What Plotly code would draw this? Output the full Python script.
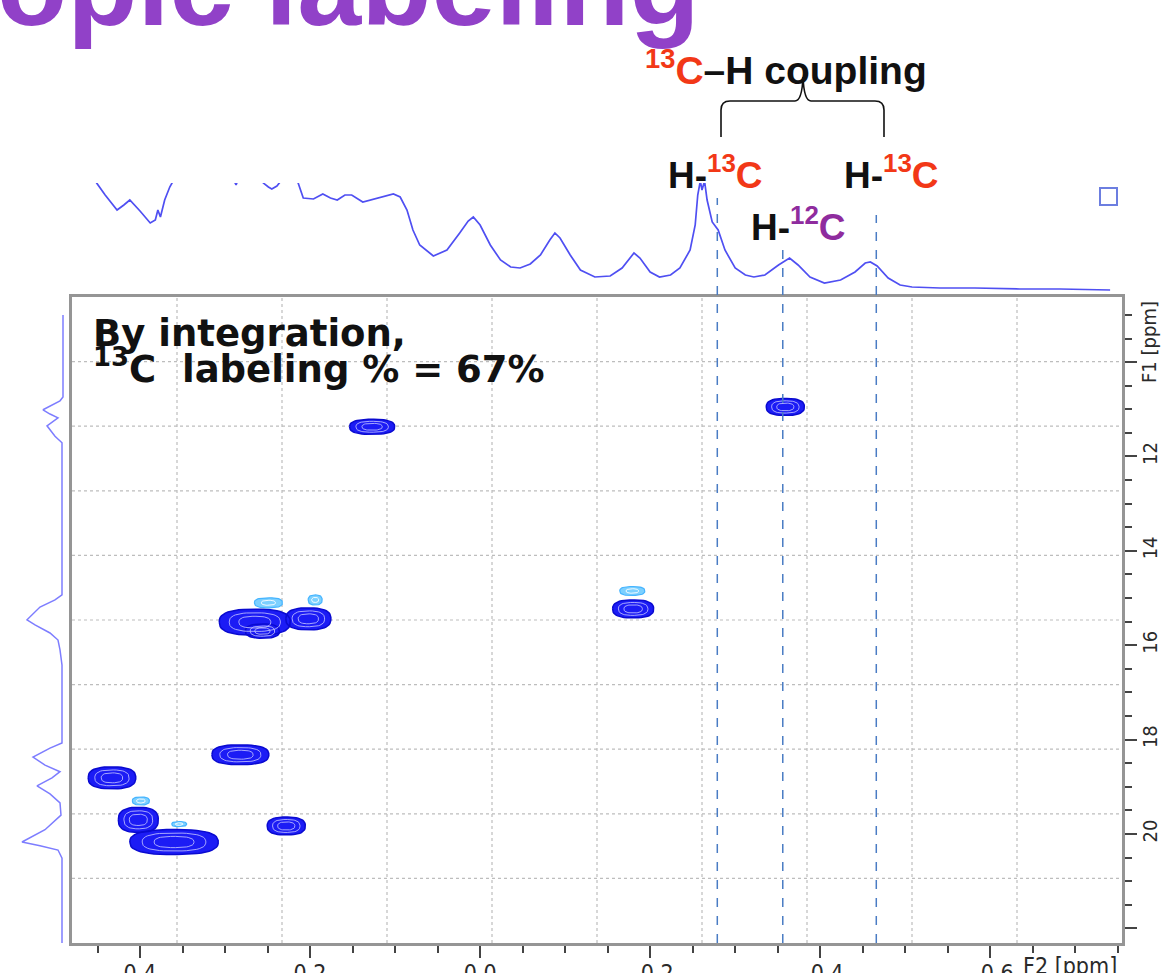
import numpy as np
import plotly.graph_objects as go

W, H = 1163, 973

# ---------------- data ----------------
# top 1D projection along F2 (ppm, arbitrary intensity)
top_ppm = [0.459, 0.451, 0.441, 0.427, 0.419, 0.412, 0.400, 0.388, 0.382, 0.379,
           0.376, 0.371, 0.365, 0.359, 0.329, 0.291, 0.287, 0.284, 0.271, 0.255,
           0.249, 0.245, 0.239, 0.234, 0.224, 0.214, 0.208, 0.196, 0.185, 0.176,
           0.168, 0.159, 0.151, 0.138, 0.129, 0.121, 0.102, 0.094, 0.086, 0.079,
           0.071, 0.055, 0.039, 0.024, 0.014, 0.008, 0.000, -0.012, -0.024, -0.036,
           -0.047, -0.059, -0.071, -0.082, -0.088, -0.094, -0.106, -0.118, -0.135, -0.153,
           -0.167, -0.181, -0.188, -0.200, -0.211, -0.224, -0.235, -0.247, -0.253, -0.256,
           -0.259, -0.261, -0.264, -0.267, -0.273, -0.280, -0.288, -0.300, -0.312, -0.322,
           -0.335, -0.351, -0.364, -0.374, -0.388, -0.405, -0.424, -0.441, -0.453, -0.459,
           -0.467, -0.480, -0.494, -0.508, -0.541, -0.582, -0.635, -0.682, -0.741]
top_int = [125, 107, 95, 80, 85, 90, 79, 67, 70, 80,
           73, 90, 103, 112, 140, 112, 105, 112, 130, 107,
           103, 101, 104, 109, 120, 107, 92, 91, 96, 92,
           90, 95, 95, 88, 90, 92, 96, 93, 80, 60,
           45, 34, 40, 57, 69, 73, 65, 45, 30, 23,
           22, 26, 35, 50, 57, 52, 35, 20, 13, 14,
           22, 37, 32, 18, 13, 15, 22, 40, 65, 95,
           109, 100, 109, 90, 68, 60, 40, 22, 15, 13,
           15, 25, 32, 25, 13, 7, 10, 18, 27, 28,
           24, 12, 5, 3, 2, 2, 1, 1, 0]

# left 1D projection along F1 (ppm, arbitrary intensity)
left_ppm = [9.00, 10.74, 10.82, 11.01, 11.10, 11.18, 11.35, 11.57, 11.71,
            14.93, 15.04, 15.19, 15.46, 15.57, 15.74, 15.89, 16.10, 16.42,
            18.07, 18.18, 18.37, 18.54, 18.68, 18.81, 18.98, 19.15, 19.34,
            19.60, 19.91, 20.17, 20.25, 20.34, 20.51, 22.39]
left_int = [0, 0, 3, 20, 13, 5, 16, 8, 1,
            1, 8, 23, 36, 28, 13, 5, 3, 1,
            1, 13, 30, 18, 3, 11, 26, 13, 3,
            2, 18, 41, 23, 5, 1, 1]

# 2D cross peaks (dark blue): F2 centre, F1 centre, half widths
pk_f2 = [-0.359, 0.127, 0.265, 0.202, 0.256, -0.180, 0.282, 0.433, 0.402, 0.360, 0.228]
pk_f1 = [10.95, 11.37, 15.51, 15.44, 15.70, 15.23, 18.32, 18.81, 19.70, 20.17, 19.83]
pk_w2 = [0.0224, 0.0265, 0.0418, 0.0265, 0.0200, 0.0241, 0.0335, 0.0280, 0.0235, 0.0520, 0.0224]
pk_w1 = [0.180, 0.160, 0.275, 0.233, 0.150, 0.190, 0.210, 0.233, 0.265, 0.265, 0.190]

# light blue (opposite sign) peaks
lt_f2 = [0.249, 0.194, -0.179, 0.399, 0.354]
lt_f1 = [15.10, 15.04, 14.85, 19.30, 19.79]
lt_w2 = [0.0165, 0.0082, 0.0147, 0.0100, 0.0088]
lt_w1 = [0.106, 0.106, 0.095, 0.085, 0.053]

# dashed guide lines (F2 ppm)
guide_ppm = [-0.279, -0.356, -0.466]

x_tickvals = [0.4, 0.2, 0.0, -0.2, -0.4, -0.6]
x_ticktext = ["0.4", "0.2", "0.0", "- 0.2", "- 0.4", "- 0.6"]
y_tickvals = [10, 12, 14, 16, 18, 20, 22]
y_ticktext = ["", "12", "14", "16", "18", "20", ""]

# ---------------- helpers ----------------
def px(x):
    return x / W

def py(y):
    return 1 - y / H

def blobs(cx, cy, wx, wy, scale=1.0, n=48, p=2.6):
    xs, ys = [], []
    t = np.linspace(0, 2 * np.pi, n)
    c, s = np.cos(t), np.sin(t)
    ex = np.sign(c) * np.abs(c) ** (2 / p)
    ey = np.sign(s) * np.abs(s) ** (2 / p)
    for a, b, u, v in zip(cx, cy, wx, wy):
        xs += list(a + scale * u * ex) + [None]
        ys += list(b + scale * v * ey) + [None]
    return xs, ys

fig = go.Figure()

# top projection
fig.add_trace(go.Scatter(x=top_ppm, y=top_int, mode="lines", xaxis="x2", yaxis="y2",
                         line=dict(color="#4f4ff2", width=1.7), hoverinfo="skip"))
# left projection
fig.add_trace(go.Scatter(x=left_int, y=left_ppm, mode="lines", xaxis="x3", yaxis="y3",
                         line=dict(color="#7d7dff", width=1.5), hoverinfo="skip"))

# cross peaks
bx, by = blobs(pk_f2, pk_f1, pk_w2, pk_w1)
fig.add_trace(go.Scatter(x=bx, y=by, mode="lines", fill="toself", fillcolor="#1c1cf5",
                         line=dict(color="#0a0ad0", width=1.5), hoverinfo="skip"))
for sc in (0.72, 0.45):
    rx, ry = blobs(pk_f2, pk_f1, pk_w2, pk_w1, scale=sc)
    fig.add_trace(go.Scatter(x=rx, y=ry, mode="lines",
                             line=dict(color="rgba(190,190,255,0.85)", width=1), hoverinfo="skip"))
lx, ly = blobs(lt_f2, lt_f1, lt_w2, lt_w1)
fig.add_trace(go.Scatter(x=lx, y=ly, mode="lines", fill="toself", fillcolor="#7cd0ff",
                         line=dict(color="#45b4ff", width=1.2), hoverinfo="skip"))
rx, ry = blobs(lt_f2, lt_f1, lt_w2, lt_w1, scale=0.5)
fig.add_trace(go.Scatter(x=rx, y=ry, mode="lines",
                         line=dict(color="rgba(255,255,255,0.9)", width=1), hoverinfo="skip"))

main_x = [px(72), px(1122)]
main_y = [py(943), py(297)]
cond = "DejaVu Sans Condensed, Liberation Sans Narrow, Roboto Condensed, Arial"
xfont = dict(family=cond, size=23, color="#2a2a2a")
yfont = dict(family=cond, size=20, color="#2a2a2a")

fig.update_layout(
    template="none",
    width=W, height=H, margin=dict(l=0, r=0, t=0, b=0, autoexpand=False),
    paper_bgcolor="white", plot_bgcolor="white", showlegend=False,
    xaxis=dict(domain=main_x, range=[0.48, -0.755], anchor="y", automargin=False,
               showgrid=False, zeroline=False, showline=True, mirror=True,
               linecolor="#959595", linewidth=3,
               tickmode="array", tickvals=x_tickvals, ticktext=x_ticktext,
               ticks="outside", ticklen=12, tickwidth=1.5, tickcolor="#444",
               ticklabelstandoff=-5,
               minor=dict(dtick=0.05, tick0=0, ticks="outside", ticklen=7,
                          tickwidth=1.5, tickcolor="#444", showgrid=False),
               tickfont=xfont),
    yaxis=dict(domain=main_y, range=[22.31, 8.62], anchor="x", side="right", automargin=False,
               showgrid=False, zeroline=False, showline=True, mirror=True,
               linecolor="#959595", linewidth=3,
               tickmode="array", tickvals=y_tickvals, ticktext=y_ticktext,
               ticks="outside", ticklen=12, tickwidth=1.5, tickcolor="#444",
               ticklabelstandoff=-4,
               minor=dict(dtick=0.5, tick0=0, ticks="outside", ticklen=7,
                          tickwidth=1.5, tickcolor="#444", showgrid=False),
               tickangle=-90, tickfont=yfont),
    xaxis2=dict(domain=main_x, matches="x", anchor="y2", visible=False, automargin=False),
    yaxis2=dict(domain=[py(297), py(183)], range=[-7, 107], anchor="x2", visible=False,
                automargin=False),
    xaxis3=dict(domain=[0, px(72)], range=[63, -9], anchor="y3", visible=False, automargin=False),
    yaxis3=dict(domain=main_y, matches="y", anchor="x3", visible=False, automargin=False),
)

shapes = []
# dotted grid: ten equal divisions of the box
for k in range(1, 10):
    shapes.append(dict(type="line", xref="x domain", yref="y domain", x0=k / 10, x1=k / 10,
                       y0=0, y1=1, line=dict(color="#bdbdbd", width=1.2, dash="dot"), layer="below"))
    shapes.append(dict(type="line", xref="x domain", yref="y domain", x0=0, x1=1,
                       y0=k / 10, y1=k / 10, line=dict(color="#bdbdbd", width=1.2, dash="dot"), layer="below"))
# dashed guides
for g, ytop in zip(guide_ppm, [198, 242, 215]):
    shapes.append(dict(type="line", xref="x", yref="paper", x0=g, x1=g, y0=py(943), y1=py(ytop),
                       line=dict(color="#4a7cc4", width=1.5, dash="dash")))
# brace
pts = [("M", 721, 137), ("L", 721, 110), ("Q", 721, 101, 730, 101), ("L", 795, 101),
       ("Q", 802, 101, 803, 77), ("Q", 804, 101, 811, 101), ("L", 875, 101),
       ("Q", 884, 101, 884, 110), ("L", 884, 137)]
path = ""
for p_ in pts:
    cmd = p_[0]
    coords = p_[1:]
    s = " ".join(f"{px(coords[i]):.5f},{py(coords[i + 1]):.5f}" for i in range(0, len(coords), 2))
    path += f"{cmd} {s} "
shapes.append(dict(type="path", xref="paper", yref="paper", path=path.strip(),
                   line=dict(color="#111", width=1.6)))
# small square icon
shapes.append(dict(type="rect", xref="paper", yref="paper", x0=px(1100), x1=px(1117),
                   y0=py(205), y1=py(188), line=dict(color="#6c7ee0", width=2)))
fig.update_layout(shapes=shapes)

RED = "#f23817"
PUR = "#8f2c9e"
arial = "Liberation Sans, Arial, Helvetica, sans-serif"
ann = []
ann.append(dict(text="<b>opic labeling</b>", x=px(702), y=py(-15), xref="paper", yref="paper",
                xanchor="right", yanchor="middle", showarrow=False,
                font=dict(family=arial, size=115, color="#9141c8")))
ann.append(dict(text=f'<b><span style="color:{RED}"><sup>13</sup>C</span>–H coupling</b>',
                x=px(643), y=py(67), xref="paper", yref="paper", xanchor="left", yanchor="middle",
                showarrow=False, font=dict(family=arial, size=39, color="#111")))
for x0 in (666, 842):
    ann.append(dict(text=f'<b>H-<span style="color:{RED}"><sup>13</sup>C</span></b>',
                    x=px(x0), y=py(172), xref="paper", yref="paper", xanchor="left", yanchor="middle",
                    showarrow=False, font=dict(family=arial, size=37, color="#111")))
ann.append(dict(text=f'<b>H-<span style="color:{PUR}"><sup>12</sup>C</span></b>',
                x=px(749), y=py(224), xref="paper", yref="paper", xanchor="left", yanchor="middle",
                showarrow=False, font=dict(family=arial, size=37, color="#111")))
dj = "DejaVu Sans, Verdana, sans-serif"
ann.append(dict(text="<b>By integration,</b>", x=px(91), y=py(333), xref="paper", yref="paper",
                xanchor="left", yanchor="middle", showarrow=False,
                font=dict(family=dj, size=37, color="#111")))
ann.append(dict(text="<b><sup>13</sup>C  labeling % = 67%</b>", x=px(91), y=py(366), xref="paper",
                yref="paper", xanchor="left", yanchor="middle", showarrow=False,
                font=dict(family=dj, size=37, color="#111")))
ann.append(dict(text="F2 [ppm]", x=px(1021), y=py(951), xref="paper", yref="paper",
                xanchor="left", yanchor="top", showarrow=False, font=xfont))
ann.append(dict(text="F1 [ppm]", x=px(1149), y=py(342), xref="paper", yref="paper",
                xanchor="center", yanchor="middle", textangle=-90, showarrow=False, font=yfont))
fig.update_layout(annotations=ann)

fig.write_html("out.html", config={"displayModeBar": False},
               post_script="document.body.style.margin='0px';document.body.style.overflow='hidden';")
